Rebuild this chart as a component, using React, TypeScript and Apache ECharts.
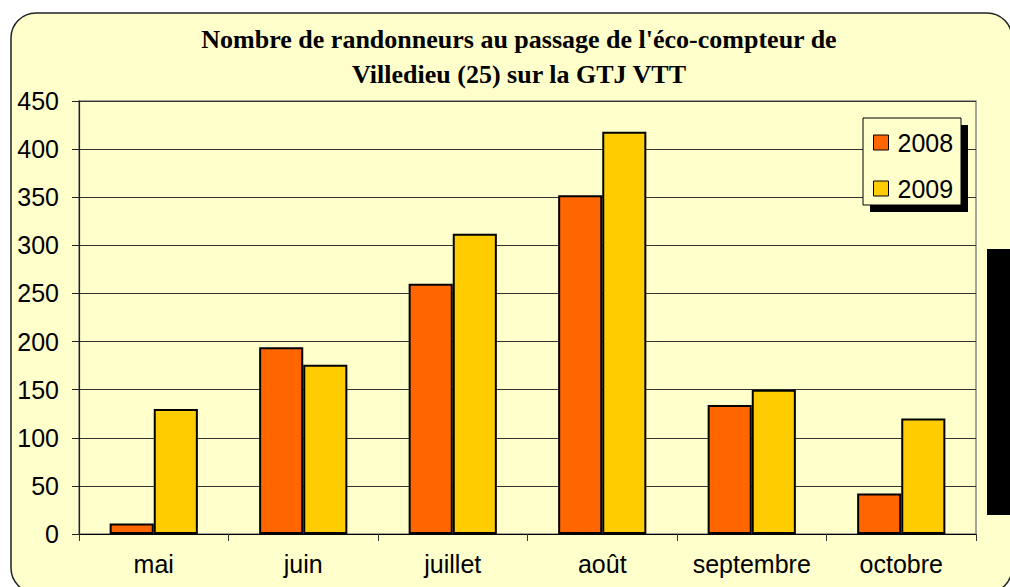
import React, { useEffect, useRef } from "react";
import * as echarts from "echarts";

const categories = ["mai", "juin", "juillet", "août", "septembre", "octobre"];
const series2008 = [11, 194, 260, 352, 134, 42];
const series2009 = [130, 176, 312, 418, 150, 120];
const seriesNames = ["2008", "2009"];
const titleLines = [
  "Nombre de randonneurs au passage de l'éco-compteur de",
  "Villedieu (25) sur la GTJ VTT",
];

export default function App() {
  const ref = useRef<HTMLDivElement>(null);
  useEffect(() => {
    if (!ref.current) return;
    const chart = echarts.init(ref.current, null, { renderer: "svg" });
    const font = "'Liberation Sans', Arial, sans-serif";
    chart.setOption({
      animation: false,
      backgroundColor: "#ffffff",
      title: {
        text: titleLines.join("\n"),
        left: 519,
        top: 22,
        textAlign: "center",
        padding: 0,
        textStyle: {
          fontFamily: "'Liberation Serif', 'Times New Roman', serif",
          fontWeight: "bold",
          fontSize: 26,
          lineHeight: 35,
          color: "#000",
        },
      },
      graphic: [
        {
          type: "rect",
          z: -10,
          shape: { x: 11, y: 13, width: 1001, height: 580, r: 25 },
          style: { fill: "#FFFFCC", stroke: "#222", lineWidth: 1.5 },
        },
        {
          type: "rect",
          z: -5,
          shape: { x: 987, y: 249, width: 30, height: 266 },
          style: { fill: "#000" },
        },
        {
          type: "rect",
          z: 5,
          shape: { x: 870, y: 125, width: 98, height: 87 },
          style: { fill: "#000" },
        },
        {
          type: "rect",
          z: 6,
          shape: { x: 863, y: 118, width: 98, height: 87 },
          style: { fill: "#FFFFCC", stroke: "#000", lineWidth: 1 },
        },
      ],
      legend: {
        data: seriesNames,
        orient: "vertical",
        left: 873,
        top: 130,
        padding: 0,
        z: 10,
        itemWidth: 15,
        itemHeight: 15,
        itemGap: 21,
        icon: "rect",
        itemStyle: { borderColor: "#000", borderWidth: 1 },
        textStyle: {
          fontFamily: font,
          fontSize: 25,
          lineHeight: 23,
          color: "#000",
          padding: [0, 0, 0, 4],
        },
      },
      grid: {
        left: 79,
        top: 101,
        right: 34,
        bottom: 53,
        show: true,
        borderColor: "#888",
        borderWidth: 1.5,
        backgroundColor: "transparent",
      },
      xAxis: {
        type: "category",
        data: categories,
        axisLine: { lineStyle: { color: "#000", width: 1 } },
        axisTick: { show: true, interval: 0, length: 7, lineStyle: { color: "#333" } },
        axisLabel: {
          interval: 0,
          fontFamily: font,
          fontSize: 25,
          color: "#000",
          margin: 17,
        },
      },
      yAxis: {
        type: "value",
        min: 0,
        max: 450,
        interval: 50,
        axisLine: { show: true, lineStyle: { color: "#222", width: 1.2 } },
        axisTick: { show: true, length: 7, lineStyle: { color: "#222" } },
        axisLabel: {
          fontFamily: font,
          fontSize: 25,
          color: "#000",
          margin: 20,
        },
        splitLine: { show: true, lineStyle: { color: "#333", width: 1 } },
      },
      series: [
        {
          name: seriesNames[0],
          type: "bar",
          data: series2008,
          barGap: "0%",
          barCategoryGap: "41%",
          itemStyle: { color: "#FF6600", borderColor: "#000", borderWidth: 2 },
        },
        {
          name: seriesNames[1],
          type: "bar",
          data: series2009,
          barGap: "0%",
          barCategoryGap: "41%",
          itemStyle: { color: "#FFCC00", borderColor: "#000", borderWidth: 2 },
        },
      ],
    });
    return () => chart.dispose();
  }, []);
  return (
    <div
      ref={ref}
      style={{ position: "fixed", left: 0, top: 0, width: 1010, height: 587 }}
    />
  );
}
